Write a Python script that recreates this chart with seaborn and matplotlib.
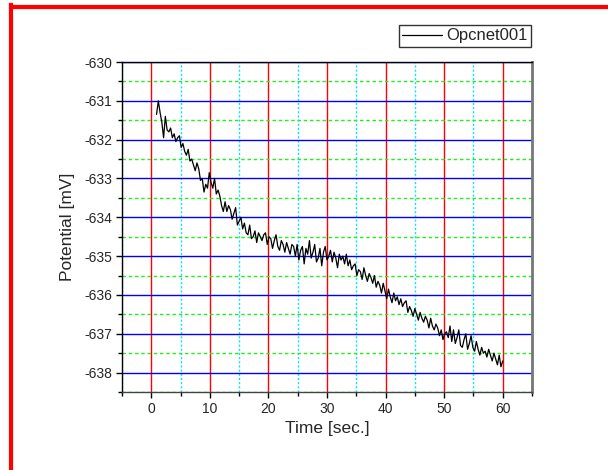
import numpy as np
import pandas as pd
import matplotlib
matplotlib.use("Agg")
import matplotlib.pyplot as plt
from matplotlib.lines import Line2D
from matplotlib.ticker import MultipleLocator
import seaborn as sns

# Recorded potential trace (time in seconds, potential in mV)
time_s = [
    0.9, 1.2, 1.5, 1.8, 2.1, 2.4, 2.7, 3.0, 3.3, 3.6,
    3.9, 4.2, 4.5, 4.8, 5.1, 5.4, 5.7, 6.0, 6.3, 6.6,
    6.9, 7.2, 7.5, 7.8, 8.1, 8.4, 8.7, 9.0, 9.3, 9.6,
    9.9, 10.2, 10.5, 10.8, 11.1, 11.4, 11.7, 12.0, 12.3, 12.6,
    12.9, 13.2, 13.5, 13.8, 14.1, 14.4, 14.7, 15.0, 15.3, 15.6,
    15.9, 16.2, 16.5, 16.8, 17.1, 17.4, 17.7, 18.0, 18.3, 18.6,
    18.9, 19.2, 19.5, 19.8, 20.1, 20.4, 20.7, 21.0, 21.3, 21.6,
    21.9, 22.2, 22.5, 22.8, 23.1, 23.4, 23.7, 24.0, 24.3, 24.6,
    24.9, 25.2, 25.5, 25.8, 26.1, 26.4, 26.7, 27.0, 27.3, 27.6,
    27.9, 28.2, 28.5, 28.8, 29.1, 29.4, 29.7, 30.0, 30.3, 30.6,
    30.9, 31.2, 31.5, 31.8, 32.1, 32.4, 32.7, 33.0, 33.3, 33.6,
    33.9, 34.2, 34.5, 34.8, 35.1, 35.4, 35.7, 36.0, 36.3, 36.6,
    36.9, 37.2, 37.5, 37.8, 38.1, 38.4, 38.7, 39.0, 39.3, 39.6,
    39.9, 40.2, 40.5, 40.8, 41.1, 41.4, 41.7, 42.0, 42.3, 42.6,
    42.9, 43.2, 43.5, 43.8, 44.1, 44.4, 44.7, 45.0, 45.3, 45.6,
    45.9, 46.2, 46.5, 46.8, 47.1, 47.4, 47.7, 48.0, 48.3, 48.6,
    48.9, 49.2, 49.5, 49.8, 50.1, 50.4, 50.7, 51.0, 51.3, 51.6,
    51.9, 52.2, 52.5, 52.8, 53.1, 53.4, 53.7, 54.0, 54.3, 54.6,
    54.9, 55.2, 55.5, 55.8, 56.1, 56.4, 56.7, 57.0, 57.3, 57.6,
    57.9, 58.2, 58.5, 58.8, 59.1, 59.4, 59.7, 60.0,
]
potential_mv = [
    -631.35, -631.00, -631.30, -631.55, -631.95, -631.40, -631.75, -631.80, -631.70, -631.95,
    -631.85, -632.05, -631.95, -631.90, -632.20, -632.10, -632.30, -632.40, -632.25, -632.55,
    -632.50, -632.65, -632.80, -632.60, -632.75, -633.05, -633.00, -633.35, -633.15, -633.25,
    -632.85, -633.10, -633.25, -633.00, -633.40, -633.30, -633.45, -633.70, -633.85, -633.60,
    -633.85, -633.70, -633.80, -634.05, -633.90, -633.75, -634.20, -634.10, -634.00, -634.30,
    -634.15, -634.40, -634.45, -634.20, -634.55, -634.50, -634.35, -634.65, -634.40, -634.50,
    -634.60, -634.45, -634.40, -634.70, -634.50, -634.55, -634.80, -634.60, -634.45, -634.75,
    -634.85, -634.60, -634.70, -634.90, -634.65, -634.80, -634.95, -634.70, -634.75, -635.00,
    -634.70, -635.10, -634.85, -634.75, -635.20, -634.80, -634.95, -634.60, -635.05, -634.90,
    -634.70, -635.15, -635.05, -634.80, -635.25, -634.90, -634.75, -635.10, -635.00, -634.85,
    -635.15, -634.90, -635.05, -635.30, -634.95, -635.10, -635.00, -635.20, -634.95, -635.25,
    -635.10, -635.35, -635.25, -635.20, -635.50, -635.35, -635.40, -635.60, -635.30, -635.50,
    -635.65, -635.45, -635.55, -635.70, -635.50, -635.80, -635.65, -635.75, -635.95, -635.70,
    -635.90, -636.10, -635.85, -636.05, -636.20, -635.95, -636.15, -636.05, -636.25, -636.10,
    -636.30, -636.20, -636.15, -636.45, -636.30, -636.40, -636.55, -636.35, -636.50, -636.65,
    -636.45, -636.60, -636.70, -636.55, -636.65, -636.85, -636.60, -636.80, -636.90, -636.75,
    -636.85, -637.05, -636.90, -637.15, -637.00, -636.95, -637.10, -636.80, -637.20, -636.90,
    -637.25, -637.10, -636.90, -637.30, -637.35, -637.15, -637.00, -637.40, -637.25, -637.05,
    -637.35, -637.45, -637.20, -637.40, -637.55, -637.35, -637.50, -637.45, -637.60, -637.40,
    -637.55, -637.70, -637.50, -637.65, -637.80, -637.55, -637.85, -637.70,
]
series_name = "Opcnet001"

x_major_ticks = [0, 10, 20, 30, 40, 50, 60]
y_major_ticks = [-630, -631, -632, -633, -634, -635, -636, -637, -638]

df = pd.DataFrame({"Time [sec.]": time_s, "Potential [mV]": potential_mv})

sns.set_theme(style="white")
plt.rcParams["font.family"] = ["Liberation Sans", "DejaVu Sans"]
plt.rcParams["axes.unicode_minus"] = False

W, H = 608, 470
fig = plt.figure(figsize=(W / 100, H / 100), dpi=100)
fig.patch.set_facecolor("white")

# plot area in pixel coordinates
left, right, top, bottom = 122, 532, 62, 392
ax = fig.add_axes([left / W, 1 - bottom / H, (right - left) / W, (bottom - top) / H])
ax.set_facecolor("white")

ax.xaxis.set_minor_locator(MultipleLocator(5))
ax.yaxis.set_minor_locator(MultipleLocator(0.5))
ax.set_xticks(x_major_ticks)
ax.set_yticks(y_major_ticks)
ax.set_xlim(-5, 65)
ax.set_ylim(-638.5, -630)

# grid: red/cyan verticals, blue/green horizontals
ax.grid(False)
ax.grid(which="major", axis="x", color="#ff0000", lw=1.0, ls="-")
ax.grid(which="minor", axis="x", color="#00e5ff", lw=1.0, ls=(0, (1.5, 1.5)))
ax.grid(which="major", axis="y", color="#0000ff", lw=1.0, ls="-")
ax.grid(which="minor", axis="y", color="#22ee22", lw=1.0, ls=(0, (2.5, 2)))
ax.set_axisbelow(True)

sns.lineplot(data=df, x="Time [sec.]", y="Potential [mV]", ax=ax,
             color="black", lw=0.9, label=series_name, legend=False)

ax.set_xlabel("Time [sec.]", fontsize=12.5, labelpad=4)
ax.set_ylabel("Potential [mV]", fontsize=12.5, labelpad=7)

ax.tick_params(which="major", direction="out", length=4, width=1,
               labelsize=10, color="black", bottom=True, left=True, pad=3)
ax.tick_params(which="minor", direction="out", length=3, width=1,
               color="black", bottom=True, left=True)

for side in ("left", "top", "bottom"):
    ax.spines[side].set_color("black")
    ax.spines[side].set_linewidth(1.0)
ax.spines["bottom"].set_color("#444444")
ax.spines["right"].set_color("#777777")
ax.spines["right"].set_linewidth(2.0)

handle = Line2D([], [], color="black", lw=0.9)
leg = fig.legend([handle], [series_name], loc="upper right",
                 bbox_to_anchor=(531 / W, 1 - 25 / H), bbox_transform=fig.transFigure,
                 fontsize=12, frameon=True, fancybox=False, shadow=False,
                 handlelength=2.4, handletextpad=0.25, borderpad=0.2,
                 borderaxespad=0.0)
leg.get_frame().set_edgecolor("black")
leg.get_frame().set_linewidth(1.0)

# red page frame on the left and top edges
fig.add_artist(Line2D([10.5 / W, 10.5 / W], [0, 1 - 5 / H], transform=fig.transFigure,
                      color="#ff0000", lw=3.0, solid_capstyle="projecting"))
fig.add_artist(Line2D([10.5 / W, 1], [1 - 6.5 / H, 1 - 6.5 / H], transform=fig.transFigure,
                      color="#ff0000", lw=3.0, solid_capstyle="projecting"))

fig.savefig("out.png", dpi=100, facecolor="white")
